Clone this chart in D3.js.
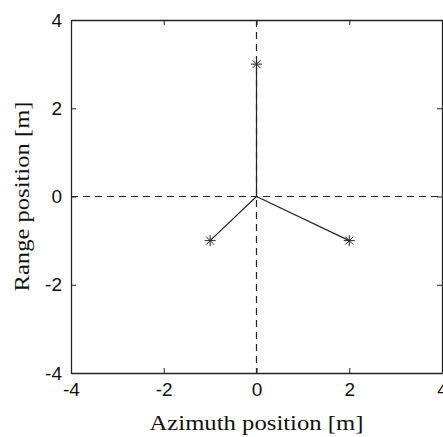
<!DOCTYPE html>
<html>
<head>
<meta charset="utf-8">
<script src="https://cdn.jsdelivr.net/npm/d3@7"></script>
<style>
  body { margin: 0; background: #fff; }
</style>
</head>
<body>
<svg id="chart" width="443" height="437"></svg>
<script>
// target positions (azimuth, range) in metres
const azimuth = [0, -1, 2];
const range   = [3, -1, -1];
const origin  = [0, 0];

const xTicks = [-4, -2, 0, 2, 4];
const yTicks = [-4, -2, 0, 2, 4];

const svg = d3.select('#chart');
const width = 443, height = 437;
const margin = { top: 20, right: 1, bottom: 64, left: 71 };
const w = width - margin.left - margin.right;
const h = height - margin.top - margin.bottom;

const x = d3.scaleLinear().domain([-4, 4]).range([0, w]);
const y = d3.scaleLinear().domain([-4, 4]).range([h, 0]);

const g = svg.append('g').attr('transform', `translate(${margin.left},${margin.top})`);
const ink = '#222';

// dashed crosshair through origin
g.append('line')
  .attr('x1', x(0)).attr('x2', x(0)).attr('y1', 0).attr('y2', h)
  .attr('stroke', ink).attr('stroke-width', 1.2).attr('stroke-dasharray', '7,5');
g.append('line')
  .attr('x1', 0).attr('x2', w).attr('y1', y(0)).attr('y2', y(0))
  .attr('stroke', ink).attr('stroke-width', 1.2).attr('stroke-dasharray', '7,5');

// spokes from origin to each target
g.selectAll('.spoke')
  .data(azimuth)
  .enter().append('line')
  .attr('class', 'spoke')
  .attr('x1', x(origin[0])).attr('y1', y(origin[1]))
  .attr('x2', d => x(d)).attr('y2', (d, i) => y(range[i]))
  .attr('stroke', ink).attr('stroke-width', 1.2);

// matlab-ish asterisk: plus + cross, 8 arms
const asterisk8 = {
  draw(ctx, size) {
    const r = Math.sqrt(size) / 2;
    const d = r * Math.SQRT1_2;
    ctx.moveTo(-r, 0); ctx.lineTo(r, 0);
    ctx.moveTo(0, -r); ctx.lineTo(0, r);
    ctx.moveTo(-d, -d); ctx.lineTo(d, d);
    ctx.moveTo(-d, d); ctx.lineTo(d, -d);
  }
};
const star = d3.symbol().type(asterisk8).size(121);
g.selectAll('.star')
  .data(azimuth)
  .enter().append('path')
  .attr('class', 'star')
  .attr('transform', (d, i) => `translate(${x(d)},${y(range[i])})`)
  .attr('d', star)
  .attr('fill', 'none')
  .attr('stroke', ink)
  .attr('stroke-width', 1);

// axes, ticks pointing inward (matlab style)
const axFont = 'Liberation Sans, Arial, sans-serif';
const axBottom = g.append('g')
  .attr('transform', `translate(0,${h})`)
  .call(d3.axisBottom(x).tickValues(xTicks).tickSizeInner(-5).tickSizeOuter(0).tickPadding(10).tickFormat(d => String(d)));
const axLeft = g.append('g')
  .call(d3.axisLeft(y).tickValues(yTicks).tickSizeInner(-5).tickSizeOuter(0).tickPadding(9).tickFormat(d => String(d)));
const axTop = g.append('g')
  .call(d3.axisTop(x).tickValues(xTicks).tickSizeInner(-5).tickSizeOuter(0).tickFormat(''));
const axRight = g.append('g')
  .attr('transform', `translate(${w},0)`)
  .call(d3.axisRight(y).tickValues(yTicks).tickSizeInner(-5).tickSizeOuter(0).tickFormat(''));

[axBottom, axLeft, axTop, axRight].forEach(a => {
  a.selectAll('.domain').attr('stroke', ink).attr('stroke-width', 1.3);
  a.selectAll('.tick line').attr('stroke', ink);
  a.selectAll('text').attr('font-size', '19px').attr('font-family', axFont).attr('fill', '#111');
});

// axis labels
svg.append('text')
  .attr('x', margin.left + x(0))
  .attr('y', 430)
  .attr('text-anchor', 'middle')
  .attr('font-size', '22px')
  .attr('font-family', 'Liberation Serif, Times New Roman, serif')
  .attr('textLength', 214)
  .attr('lengthAdjust', 'spacingAndGlyphs')
  .attr('fill', '#111')
  .text('Azimuth position [m]');

svg.append('text')
  .attr('transform', `translate(29, ${margin.top + y(0)}) rotate(-90)`)
  .attr('text-anchor', 'middle')
  .attr('font-size', '22px')
  .attr('font-family', 'Liberation Serif, Times New Roman, serif')
  .attr('textLength', 190)
  .attr('lengthAdjust', 'spacingAndGlyphs')
  .attr('fill', '#111')
  .text('Range position [m]');
</script>
</body>
</html>
